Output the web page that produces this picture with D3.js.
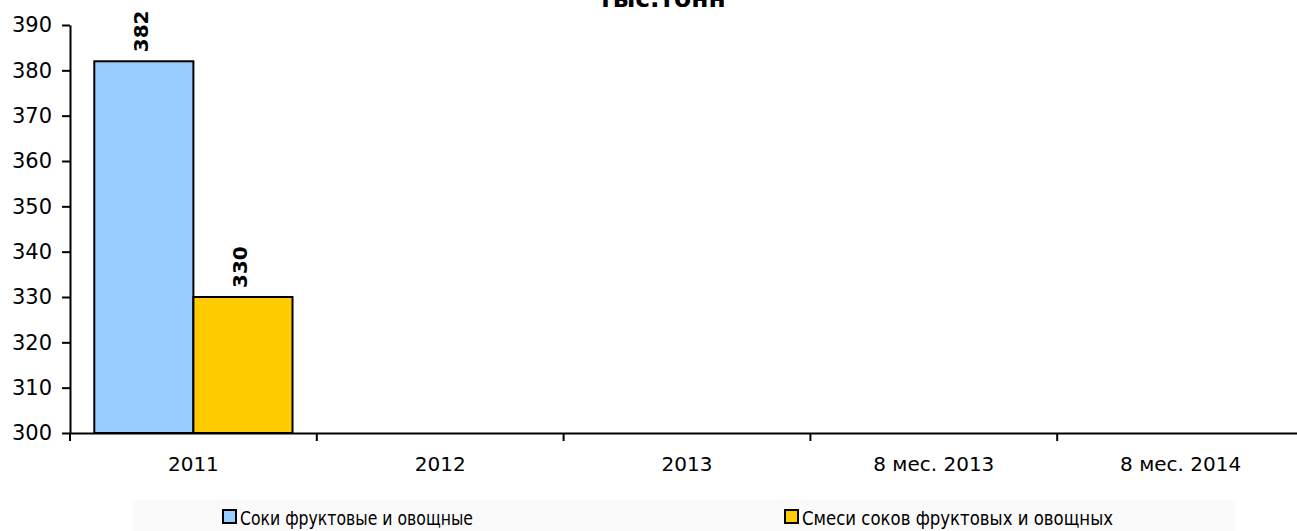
<!DOCTYPE html>
<html><head><meta charset="utf-8">
<script src="https://cdn.jsdelivr.net/npm/d3@7"></script>
<style>body{margin:0;background:#fff;} svg{display:block;font-family:"DejaVu Sans",Verdana,sans-serif;}</style>
</head><body>
<svg id="c" width="1297" height="531"></svg>
<script>
const categories = ["2011", "2012", "2013", "8 мес. 2013", "8 мес. 2014"];
const seriesNames = ["Соки фруктовые и овощные", "Смеси соков фруктовых и овощных"];
const juices = [382, null, null, null, null];
const mixes = [330, null, null, null, null];
const yTicks = [300, 310, 320, 330, 340, 350, 360, 370, 380, 390];
const colors = ["#99ccff", "#ffcc00"];
const title = "тыс.тонн";

const svg = d3.select("#c");
const m = {l: 70};
const x = d3.scaleBand().domain(categories).range([m.l, 1304]).paddingInner(0).paddingOuter(0);
const y = d3.scaleLinear().domain([300, 390]).range([433, 25]);
const xs = d3.scaleBand().domain([0, 1]).range([0, x.bandwidth()]).paddingInner(0).paddingOuter(0.245);

svg.append("text").attr("x", 662).attr("y", 7).attr("text-anchor", "middle")
  .attr("font-weight", "bold").attr("font-size", 25).text(title);

const series = [juices, mixes];
series.forEach((vals, si) => {
  const g = svg.append("g");
  categories.forEach((c, i) => {
    const v = vals[i];
    if (v == null || v <= 300) return;
    const bx = x(c) + xs(si);
    g.append("rect").attr("x", bx).attr("y", y(v)).attr("width", xs.bandwidth()).attr("height", y(300) - y(v))
      .attr("fill", colors[si]).attr("stroke", "#000").attr("stroke-width", 2);
    const cx = bx + xs.bandwidth() / 2 + 4, cy = y(v) - 9;
    g.append("text").attr("transform", `translate(${cx},${cy}) rotate(-90)`)
      .attr("font-weight", "bold").attr("font-size", 20).text(v);
  });
});

const yAxis = d3.axisLeft(y).tickValues(yTicks).tickSize(8).tickSizeOuter(0).tickPadding(10);
const gy = svg.append("g").attr("transform", `translate(${m.l},0)`).call(yAxis);
gy.selectAll("path,line").attr("stroke", "#000").attr("stroke-width", 2);
gy.selectAll("text").attr("font-size", 21).attr("fill", "#000").attr("font-family", "DejaVu Sans");

const xAxis = d3.axisBottom(x).tickSize(0).tickSizeOuter(0).tickPadding(24);
const gx = svg.append("g").attr("transform", `translate(0,${y(300)})`).call(xAxis);
gx.select("path").attr("stroke", "#000").attr("stroke-width", 2);
gx.selectAll("text").attr("font-size", 20).attr("fill", "#000").attr("font-family", "DejaVu Sans");
categories.forEach(c => {
  gx.append("line").attr("x1", x(c)).attr("x2", x(c)).attr("y1", 0).attr("y2", 8).attr("stroke", "#000").attr("stroke-width", 2);
});

// legend
const lg = svg.append("g");
lg.append("rect").attr("x", 133).attr("y", 500).attr("width", 1102).attr("height", 31).attr("fill", "#fafafa");
const lx = [223, 785];
const lw = [233, 311];
seriesNames.forEach((n, i) => {
  lg.append("rect").attr("x", lx[i]).attr("y", 510).attr("width", 13).attr("height", 13)
    .attr("fill", colors[i]).attr("stroke", "#000").attr("stroke-width", 2);
  lg.append("text").attr("x", lx[i] + 17).attr("y", 525).attr("font-size", 20)
    .attr("textLength", lw[i]).attr("lengthAdjust", "spacingAndGlyphs").text(n);
});
</script>
</body></html>
